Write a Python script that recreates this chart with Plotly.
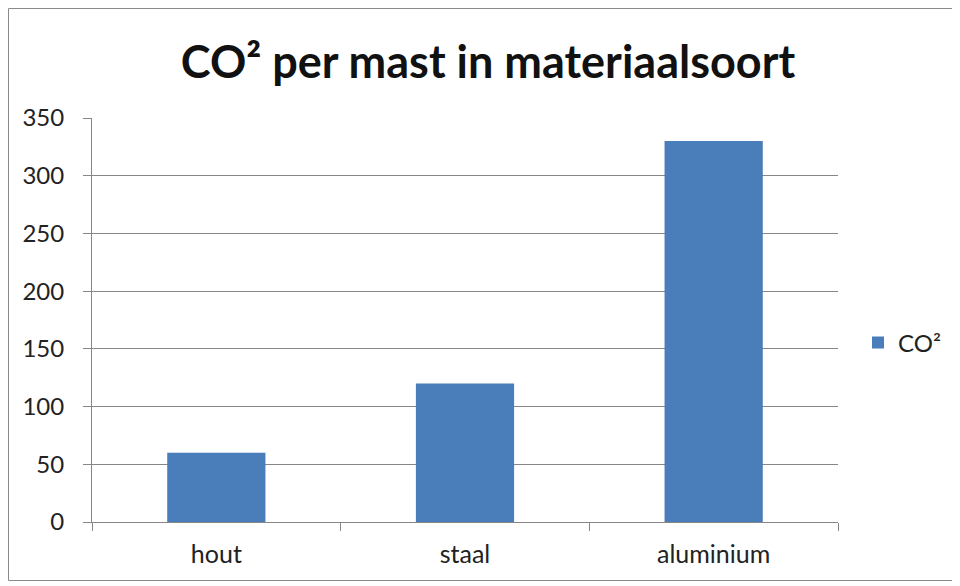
import plotly.graph_objects as go

categories = ["hout", "staal", "aluminium"]
co2_values = [60, 120, 330]
series_name = "CO²"
title_text = "CO² per mast in materiaalsoort"
y_ticks = [0, 50, 100, 150, 200, 250, 300, 350]

# page body has an 8px margin, so the figure is drawn 8px in from the window corner
OFF = 8
W, H = 960 - OFF, 586 - OFF
L, R, T, B = 92 - OFF, 952 - (838 - OFF), 118 - OFF, H - (522 - OFF)
pw, ph = W - L - R, H - T - B

def px_x(x):
    return (x - OFF - L) / pw

def px_y(y):
    return (H - B - (y - OFF)) / ph

FONT = "Lato, Open Sans, sans-serif"

fig = go.Figure()
fig.add_trace(go.Bar(
    x=categories, y=co2_values, name=series_name,
    marker=dict(color="#4A7EBB", line=dict(width=0)),
    showlegend=True,
))

grid_col = "#868686"
fig.update_layout(
    width=W, height=H,
    margin=dict(l=L, r=R, t=T, b=B),
    paper_bgcolor="white", plot_bgcolor="white",
    bargap=0.605,
    font=dict(family=FONT, color="#222222"),
    title=dict(text="<b>" + title_text + "</b>", x=px_x(488), xref="paper", xanchor="center",
               y=1 - (62 - OFF) / H, yanchor="middle", yref="container",
               font=dict(size=45, color="#111111", family=FONT)),
    showlegend=True,
    legend=dict(x=px_x(858), xanchor="left", y=px_y(343), yanchor="middle",
                font=dict(size=24, color="#222222"), bgcolor="rgba(0,0,0,0)",
                itemwidth=30),
    xaxis=dict(type="category", showgrid=False, showline=True, linecolor=grid_col, linewidth=1,
               ticks="outside", tickson="boundaries", ticklen=8, tickcolor=grid_col,
               tickfont=dict(size=25, color="#222222"), fixedrange=True,
               ticklabelstandoff=10),
    yaxis=dict(range=[0, 350], tickvals=y_ticks, showgrid=True, gridcolor=grid_col, gridwidth=1,
               showline=True, linecolor=grid_col, linewidth=1, ticks="outside", ticklen=8,
               tickcolor=grid_col, tickfont=dict(size=24, color="#222222"), zeroline=False,
               ticklabelstandoff=14),
    shapes=[dict(type="rect", xref="paper", yref="paper",
                 x0=px_x(8.5), x1=px_x(970), y0=px_y(580.5), y1=px_y(8.5),
                 line=dict(color="#8a8a8a", width=1), fillcolor="rgba(0,0,0,0)", layer="below")],
)

fig.write_html("out.html")
